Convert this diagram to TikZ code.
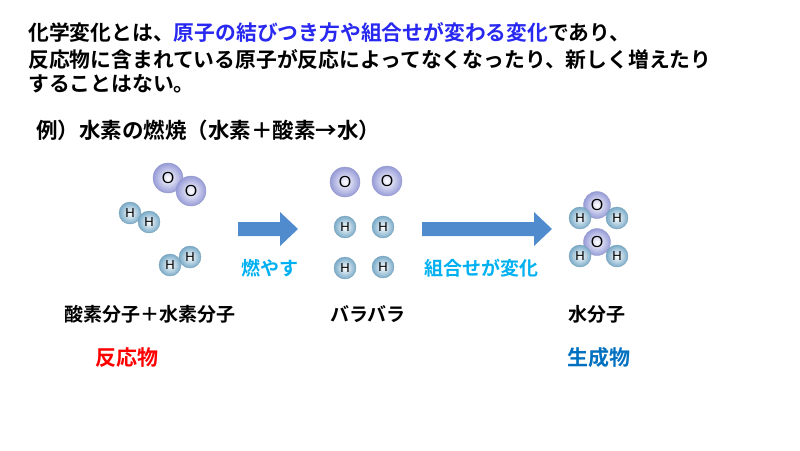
\documentclass[tikz,border=0pt]{standalone}
\usepackage{fontspec}
\setmainfont{Noto Sans CJK JP}[BoldFont={Noto Sans CJK JP Bold}]
\newfontfamily\latinf{Liberation Sans}
\usepackage{tikz}
\begin{document}
\begin{tikzpicture}[x=1pt,y=-1pt,
  O/.style={circle,minimum size=30pt,inner sep=0pt,draw={rgb,255:red,150;green,155;blue,205},line width=0.4pt,
    shading=radial,inner color=white,outer color={rgb,255:red,150;green,155;blue,215},font=\latinf\fontsize{16}{16}\selectfont},
  H/.style={circle,minimum size=22pt,inner sep=0pt,draw={rgb,255:red,120;green,160;blue,185},line width=0.4pt,
    shading=radial,inner color=white,outer color={rgb,255:red,120;green,170;blue,200},font=\latinf\fontsize{13}{13}\selectfont},
  WO/.style={O,minimum size=27pt},
  bigarrow/.style={fill={rgb,255:red,80;green,140;blue,205},draw=none},
  txt/.style={anchor=west,inner sep=0pt,font=\bfseries\fontsize{20.8}{20.8}\selectfont},
  lbl/.style={inner sep=0pt,font=\bfseries\fontsize{19}{19}\selectfont}]
\useasboundingbox (0,0) rectangle (800,450);
\definecolor{hl}{RGB}{40,40,240}
\definecolor{cy}{RGB}{0,176,240}
\definecolor{bl}{RGB}{0,112,192}
\node[txt] (l1) at (28,33) {化学変化とは、\textcolor{hl}{原子の結びつき方や組合せが変わる変化}であり、};
\node[txt] (l2) at (28,59) {反応物に含まれている原子が反応によってなくなったり、新しく増えたり};
\node[txt] (l3) at (28,84) {することはない。};
\node[txt,font=\bfseries\fontsize{21.5}{21.5}\selectfont] (ex) at (36,130) {例）水素の燃焼（水素＋酸素→水）};
% reactants
\node[O] (o1) at (168,178) {O};
\node[O] (o2) at (191,191) {O};
\node[H] (h1) at (130,213) {H};
\node[H] (h2) at (149,222) {H};
\node[H] (h3) at (170,265) {H};
\node[H] (h4) at (190,257) {H};
% arrow 1
\fill[bigarrow] (238,222) -- (280,222) -- (280,212) -- (298,229) -- (280,246) -- (280,236) -- (238,236) -- cycle;
\node[lbl,text=cy] (a1) at (270,268) {燃やす};
% separated
\node[O] (o3) at (345,182) {O};
\node[O] (o4) at (387,181) {O};
\node[H] (h5) at (345,227) {H};
\node[H] (h6) at (383,227) {H};
\node[H] (h7) at (345,268) {H};
\node[H] (h8) at (383,267) {H};
% arrow 2
\fill[bigarrow] (422,222) -- (534,222) -- (534,212) -- (552,229) -- (534,246) -- (534,236) -- (422,236) -- cycle;
\node[lbl,text=cy] (a2) at (481,268) {組合せが変化};
% water
\node[WO] (w1) at (597,205) {O};
\node[H] (w1a) at (580,218) {H};
\node[H] (w1b) at (617,218) {H};
\node[WO] (w2) at (597,242) {O};
\node[H] (w2a) at (580,256) {H};
\node[H] (w2b) at (617,256) {H};
% labels
\node[lbl] (n1) at (150,314) {酸素分子＋水素分子};
\node[lbl] (n2) at (368,314) {バラバラ};
\node[lbl] (n3) at (597,314) {水分子};
\node[lbl,text=red,font=\bfseries\fontsize{21}{21}\selectfont] (r1) at (127,358) {反応物};
\node[lbl,text=bl,font=\bfseries\fontsize{21}{21}\selectfont] (r2) at (599,358) {生成物};
\end{tikzpicture}
\end{document}
